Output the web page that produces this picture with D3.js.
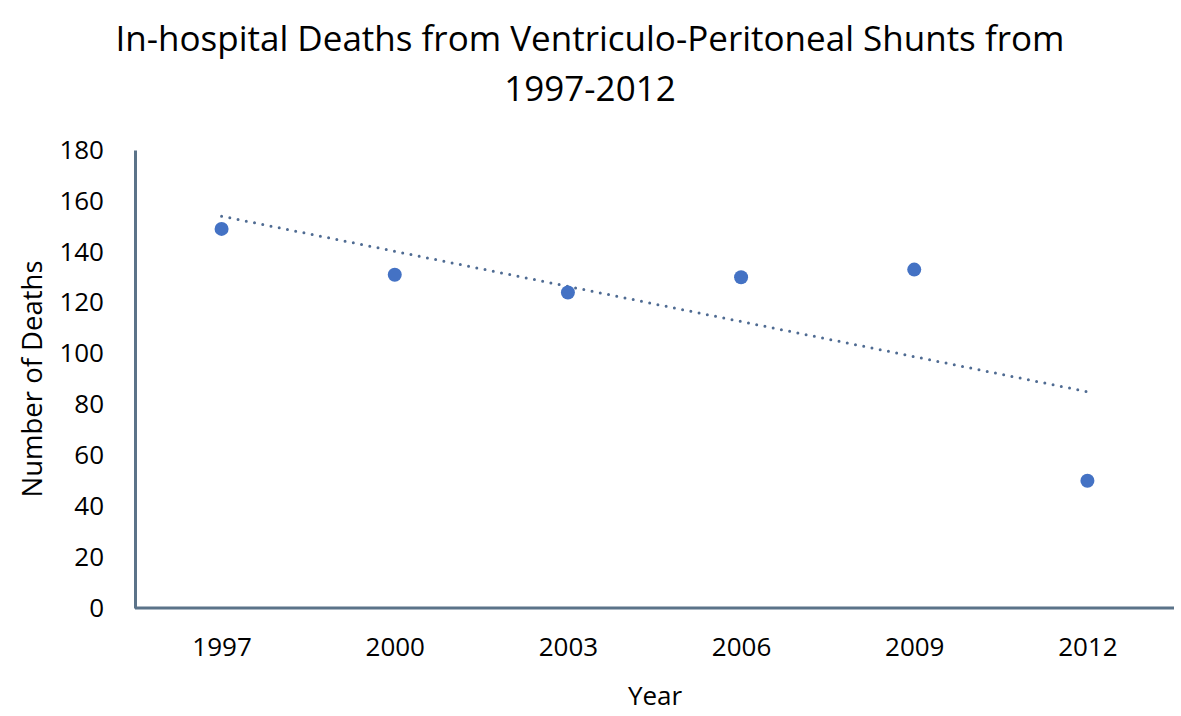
<!DOCTYPE html>
<html><head><meta charset="utf-8">
<script src="https://cdn.jsdelivr.net/npm/d3@7"></script>
<style>body{margin:0;background:#fff}svg{display:block}text{font-family:"Open Sans",sans-serif;fill:#000}</style>
</head><body>
<script>
const years = ["1997","2000","2003","2006","2009","2012"];
const deaths = [149, 131, 124, 130, 133, 50];
const yTicks = [0,20,40,60,80,100,120,140,160,180];
const titleLines = ["In-hospital Deaths from Ventriculo-Peritoneal Shunts from","1997-2012"];

const W=1181,H=716;
const m={left:135,right:7,top:150,bottom:108};
const svg=d3.select("body").append("svg").attr("width",W).attr("height",H);
const x=d3.scalePoint().domain(years).range([m.left,W-m.right]).padding(0.5);
const y=d3.scaleLinear().domain([0,180]).range([H-m.bottom,m.top]);

svg.selectAll(".t").data(titleLines).join("text")
  .attr("x",590).attr("y",(d,i)=>51+i*50).attr("text-anchor","middle")
  .style("font-size","35px").text(d=>d);

const axisColor="#5b7389";
const gx=svg.append("g").attr("transform",`translate(0,${y(0)})`)
  .call(d3.axisBottom(x).tickSize(0).tickPadding(30));
gx.select(".domain").attr("stroke",axisColor).attr("stroke-width",3).attr("d",`M${m.left},0H${W-m.right}`);
gx.selectAll("text").style("font-size","26px");

const gy=svg.append("g").attr("transform",`translate(${m.left},0)`)
  .call(d3.axisLeft(y).tickValues(yTicks).tickSize(0).tickPadding(31));
gy.select(".domain").attr("stroke",axisColor).attr("stroke-width",3);
gy.selectAll("text").style("font-size","26px");

svg.append("text").attr("x",655).attr("y",705).attr("text-anchor","middle").style("font-size","26px").text("Year");
svg.append("text").attr("transform","translate(42,379) rotate(-90)").attr("text-anchor","middle").style("font-size","27.5px").text("Number of Deaths");

// linear trendline (least squares on index)
const n=deaths.length, xs=d3.range(n);
const mx=d3.mean(xs), my=d3.mean(deaths);
const slope=d3.sum(xs,i=>(i-mx)*(deaths[i]-my))/d3.sum(xs,i=>(i-mx)**2);
const icpt=my-slope*mx;
svg.append("line")
  .attr("x1",x(years[0])).attr("y1",y(icpt))
  .attr("x2",x(years[n-1])).attr("y2",y(icpt+slope*(n-1)))
  .attr("stroke","#4f6b92").attr("stroke-width",3).attr("stroke-dasharray","0 8.4").attr("stroke-linecap","round");

svg.selectAll("circle").data(deaths).join("circle")
  .attr("cx",(d,i)=>x(years[i])).attr("cy",d=>y(d)).attr("r",7).attr("fill","#4472C4");
</script>
</body></html>
